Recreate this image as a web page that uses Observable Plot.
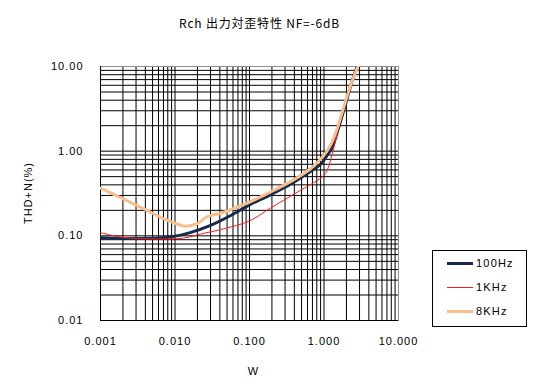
<!DOCTYPE html>
<html><head><meta charset="utf-8">
<script src="https://cdn.jsdelivr.net/npm/d3@7"></script>
<script src="https://cdn.jsdelivr.net/npm/@observablehq/plot@0.6"></script>
<style>
body{margin:0;background:#fff;}
#wrap{position:relative;width:538px;height:392px;font-family:"Liberation Sans",Arial,sans-serif;color:#000;}
#wrap svg{position:absolute;left:0;top:0;}
#title{position:absolute;left:0;width:519px;top:16px;line-height:14px;text-align:center;font-size:12px;font-family:"Noto Sans CJK JP",sans-serif;letter-spacing:0.8px;}
#ylab{position:absolute;left:-22px;top:186px;width:100px;line-height:14px;text-align:center;font-size:11px;letter-spacing:1px;transform:rotate(-90deg);}
#xlab{position:absolute;left:203px;top:364px;width:100px;line-height:14px;text-align:center;font-size:11px;}
#legend{position:absolute;left:432px;top:250px;width:95px;height:77px;box-sizing:border-box;border:1px solid #000;background:#fff;}
.item{position:absolute;left:14px;height:14px;line-height:14px;font-size:11px;letter-spacing:1.2px;}
.item .sw{position:absolute;left:0;width:26px;}
.item span{position:absolute;left:29px;white-space:nowrap;}
</style></head>
<body><div id="wrap">
<div id="title"></div>
<div id="ylab"></div>
<div id="xlab"></div>
<div id="legend"></div>
</div>
<script>
const titleText = "Rch 出力対歪特性 NF=-6dB";
const xLabel = "W";
const yLabel = "THD+N(%)";
const xTicks = [0.001, 0.01, 0.1, 1, 10];
const yTicks = [0.01, 0.1, 1, 10];
const seriesNames = ["100Hz", "1KHz", "8KHz"];
const seriesColors = ["#172a4b", "#ff1a1a", "#f8bf8c"];
const seriesWidths = [3, 1, 3];

const w100 = [0.001, 0.002, 0.0058, 0.0095, 0.016, 0.030, 0.056, 0.10, 0.19, 0.36, 0.59, 0.90, 1.10, 1.29, 1.58, 1.95, 2.39, 2.79];
const thd100 = [0.095, 0.093, 0.094, 0.098, 0.109, 0.133, 0.174, 0.232, 0.305, 0.41, 0.54, 0.70, 0.89, 1.11, 1.92, 3.63, 6.8, 10];

const w1k = [0.001, 0.002, 0.0058, 0.013, 0.022, 0.045, 0.10, 0.19, 0.48, 0.81, 0.99, 1.10, 1.29, 1.50, 1.84, 2.27, 2.83];
const thd1k = [0.109, 0.096, 0.092, 0.094, 0.105, 0.121, 0.150, 0.212, 0.344, 0.45, 0.516, 0.59, 0.93, 1.60, 3.3, 6.25, 10];

const w8k = [0.001, 0.002, 0.0038, 0.0071, 0.0138, 0.020, 0.027, 0.045, 0.10, 0.19, 0.36, 0.66, 0.95, 1.22, 1.50, 1.84, 2.27, 2.85];
const thd8k = [0.366, 0.274, 0.209, 0.159, 0.130, 0.140, 0.168, 0.19, 0.250, 0.328, 0.44, 0.62, 0.85, 1.17, 1.84, 3.3, 5.97, 10];

const xsList = [w100, w1k, w8k];
const ysList = [thd100, thd1k, thd8k];
const rows = [];
seriesNames.forEach((name, i) => {
  xsList[i].forEach((w, j) => rows.push({series: name, w, thd: ysList[i][j]}));
});

function minorGrid(lo, hi) {
  const out = [];
  for (let e = Math.log10(lo); e < Math.log10(hi); e++) {
    for (let m = 1; m <= 9; m++) out.push(+(m * Math.pow(10, e)).toPrecision(6));
  }
  out.push(hi);
  return out;
}
const xGrid = minorGrid(0.001, 10).filter(v => v > 0.001 && v < 10);
const yGrid = minorGrid(0.01, 10).filter(v => v > 0.01);

const lineMarks = seriesNames.map((name, i) =>
  Plot.line(rows.filter(r => r.series === name), {
    x: "w", y: "thd", stroke: seriesColors[i], strokeWidth: seriesWidths[i],
    curve: "catmull-rom", clip: true
  })
);

const chart = Plot.plot({
  width: 538, height: 392,
  marginLeft: 100, marginRight: 140, marginTop: 66, marginBottom: 72,
  style: {fontFamily: "'Liberation Sans', Arial, sans-serif", fontSize: "11px", color: "#000", background: "transparent", letterSpacing: "1px"},
  x: {type: "log", domain: [0.001, 10], ticks: xTicks, tickFormat: d3.format(".3f"), tickSize: 0, tickPadding: 17, label: null},
  y: {type: "log", domain: [0.01, 10], ticks: yTicks, tickFormat: d3.format(".2f"), tickSize: 0, tickPadding: 17, label: null},
  marks: [
    Plot.ruleX(xGrid, {stroke: "#000", strokeWidth: 1}),
    Plot.ruleY(yGrid, {stroke: "#000", strokeWidth: 1}),
    Plot.frame({stroke: "#909090"}),
    Plot.ruleX([0.001], {stroke: "#000"}),
    Plot.ruleY([0.01], {stroke: "#000"}),
    ...lineMarks
  ]
});
document.getElementById("wrap").prepend(chart);
document.getElementById("title").textContent = titleText;
document.getElementById("xlab").textContent = xLabel;
document.getElementById("ylab").textContent = yLabel;
const leg = document.getElementById("legend");
const rowTops = [5, 29, 53];
seriesNames.forEach((name, i) => {
  const it = document.createElement("div");
  it.className = "item";
  it.style.top = rowTops[i] + "px";
  const sw = document.createElement("div");
  sw.className = "sw";
  sw.style.height = seriesWidths[i] + "px";
  sw.style.top = (7 - seriesWidths[i] / 2) + "px";
  sw.style.background = seriesColors[i];
  const sp = document.createElement("span");
  sp.textContent = name;
  it.append(sw, sp);
  leg.append(it);
});
</script>
</body></html>
